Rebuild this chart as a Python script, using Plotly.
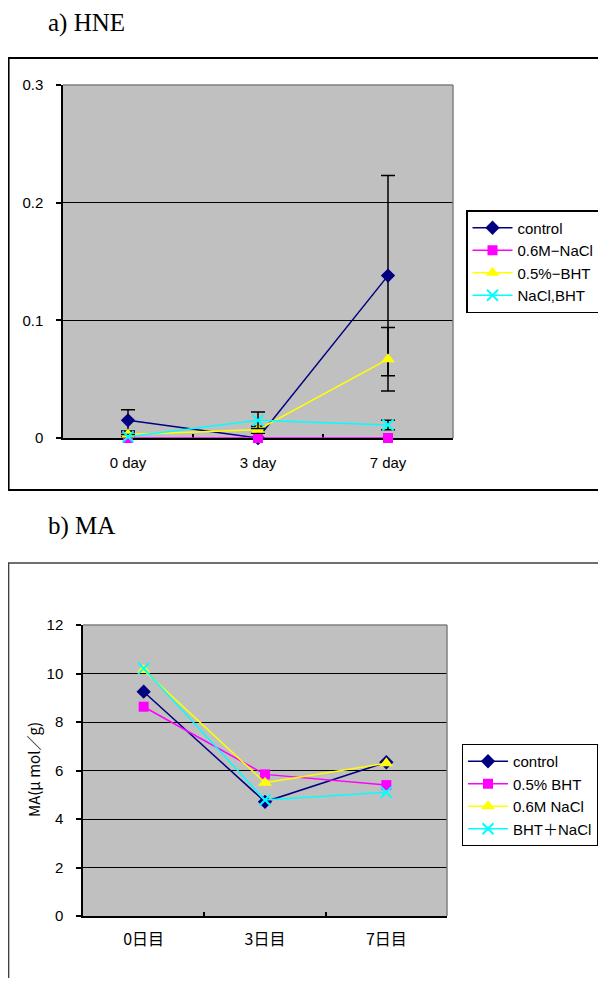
import plotly.graph_objects as go

# page body has an 8px default margin; figure is sized to fit the 606x986 window
OFF = 8
FW, FH = 590, 970

# ---------- data: a) HNE ----------
hne_days = ["0 day", "3 day", "7 day"]
hne_control = [0.015, 0.0, 0.138]
hne_control_err = [0.009, 0.0, 0.085]
hne_nacl = [0.0, 0.0, 0.0]
hne_nacl_err = [0.0, 0.0, 0.0]
hne_bht = [0.003, 0.007, 0.067]
hne_bht_err = [0.002, 0.003, 0.027]
hne_both = [0.001, 0.015, 0.011]
hne_both_err = [0.002, 0.007, 0.004]
hne_names = ["control", "0.6M\u2212NaCl", "0.5%\u2212BHT", "NaCl,BHT"]
hne_ticks = [0, 0.1, 0.2, 0.3]
hne_ticktext = ["0", "0.1", "0.2", "0.3"]

# ---------- data: b) MA ----------
ma_days = ["0日目", "3日目", "7日目"]
ma_control = [9.25, 4.71, 6.34]
ma_bht = [8.63, 5.84, 5.40]
ma_nacl = [10.14, 5.50, 6.30]
ma_both = [10.21, 4.78, 5.10]
ma_names = ["control", "0.5% BHT", "0.6M NaCl", "BHT＋NaCl"]
ma_ticks = [0, 2, 4, 6, 8, 10, 12]

colors = ["#000080", "#FF00FF", "#FFFF00", "#00FFFF"]
symbols = ["diamond", "square", "triangle-up", "x-thin-open"]
sizes = [11, 10, 12, 11]

FONT = "Liberation Sans, Arial, Noto Sans CJK JP, sans-serif"
JFONT = "Noto Sans CJK JP, Liberation Sans, sans-serif"


def px_x(v):
    return (v - OFF) / FW


def px_y(v):
    return (FH - (v - OFF)) / FH


def marker(i):
    mk = dict(color=colors[i], size=sizes[i], symbol=symbols[i])
    if symbols[i].startswith("x-thin"):
        mk["line"] = dict(color=colors[i], width=2)
    return mk


fig = go.Figure()

hne_series = [hne_control, hne_nacl, hne_bht, hne_both]
hne_errs = [hne_control_err, hne_nacl_err, hne_bht_err, hne_both_err]
for i in range(4):
    fig.add_trace(go.Scatter(
        x=hne_days, y=hne_series[i], name=hne_names[i],
        mode="lines+markers", line=dict(color=colors[i], width=1.5),
        marker=marker(i), cliponaxis=False,
        error_y=dict(type="data", array=hne_errs[i],
                     visible=any(v > 0 for v in hne_errs[i]),
                     color="black", thickness=1.5, width=7),
        xaxis="x", yaxis="y", legend="legend"))

ma_series = [ma_control, ma_bht, ma_nacl, ma_both]
for i in range(4):
    fig.add_trace(go.Scatter(
        x=ma_days, y=ma_series[i], name=ma_names[i],
        mode="lines+markers", line=dict(color=colors[i], width=1.5),
        marker=marker(i), cliponaxis=False,
        xaxis="x2", yaxis="y2", legend="legend2"))

axis_common = dict(showline=True, linecolor="black", linewidth=1.5,
                   tickfont=dict(family=FONT, size=15, color="black"),
                   ticks="outside", tickcolor="black", ticklen=5, tickwidth=1.5,
                   zeroline=False, fixedrange=True)

fig.update_layout(
    width=FW, height=FH,
    margin=dict(l=0, r=0, t=0, b=0, autoexpand=False),
    paper_bgcolor="white", plot_bgcolor="#C0C0C0",
    showlegend=True,
    xaxis=dict(**{**axis_common, "ticks": "inside", "ticklen": 4},
               domain=[px_x(63), px_x(453)], anchor="y", type="category",
               tickson="boundaries", showgrid=False, layer="below traces",
               ticklabelstandoff=10, range=[-0.5, 2.5]),
    yaxis=dict(**axis_common, domain=[px_y(438), px_y(85)], anchor="x",
               range=[0, 0.3], tickvals=hne_ticks, ticktext=hne_ticktext,
               showgrid=True, gridcolor="black", gridwidth=1.2,
               ticklabelstandoff=10),
    xaxis2=dict(**{**axis_common, "ticks": "inside", "ticklen": 4,
                   "tickfont": dict(family=JFONT, size=16, color="black")},
                domain=[px_x(83), px_x(447)], anchor="y2", type="category",
                tickson="boundaries", showgrid=False, layer="below traces",
                ticklabelstandoff=8, range=[-0.5, 2.5]),
    yaxis2=dict(**axis_common, domain=[px_y(916), px_y(625)], anchor="x2",
                range=[0, 12], tickvals=ma_ticks,
                showgrid=True, gridcolor="black", gridwidth=1.2,
                ticklabelstandoff=10),
    legend=dict(x=px_x(466), y=px_y(210), xanchor="left", yanchor="top",
                bordercolor="black", borderwidth=1.5, bgcolor="white",
                font=dict(family=FONT, size=15, color="black"),
                itemwidth=40, tracegroupgap=0, itemclick=False),
    legend2=dict(x=px_x(462), y=px_y(744), xanchor="left", yanchor="top",
                 bordercolor="black", borderwidth=1, bgcolor="white",
                 font=dict(family=FONT, size=15, color="black"),
                 itemwidth=40, tracegroupgap=0, itemclick=False),
)

shapes = []
for xr, yr in (("x domain", "y domain"), ("x2 domain", "y2 domain")):
    shapes.append(dict(type="line", xref=xr, yref=yr, x0=0, x1=1, y0=1, y1=1,
                       line=dict(color="#808080", width=1.5), layer="above"))
    shapes.append(dict(type="line", xref=xr, yref=yr, x0=1, x1=1, y0=0, y1=1,
                       line=dict(color="#808080", width=1.5), layer="above"))
shapes.append(dict(type="rect", xref="paper", yref="paper",
                   x0=px_x(8) + 0.001, x1=1.05, y0=px_y(490), y1=px_y(58),
                   line=dict(color="black", width=2), layer="below"))
shapes.append(dict(type="rect", xref="paper", yref="paper",
                   x0=px_x(8) + 0.001, x1=1.05, y0=-0.05, y1=px_y(563),
                   line=dict(color="#404040", width=1.5), layer="below"))
fig.update_layout(shapes=shapes)

SERIF = "Liberation Serif, Times New Roman, serif"
fig.add_annotation(text="a) HNE", xref="paper", yref="paper",
                   x=px_x(46), y=px_y(23), xanchor="left", yanchor="middle",
                   showarrow=False, font=dict(family=SERIF, size=25, color="black"))
fig.add_annotation(text="b) MA", xref="paper", yref="paper",
                   x=px_x(46), y=px_y(526), xanchor="left", yanchor="middle",
                   showarrow=False, font=dict(family=SERIF, size=25, color="black"))
fig.add_annotation(text="MA(μ mol／g)", xref="paper", yref="paper",
                   x=px_x(33), y=px_y(770), xanchor="center", yanchor="middle",
                   textangle=-90, showarrow=False,
                   font=dict(family=JFONT, size=15, color="black"))

fig.write_html("out.html")
